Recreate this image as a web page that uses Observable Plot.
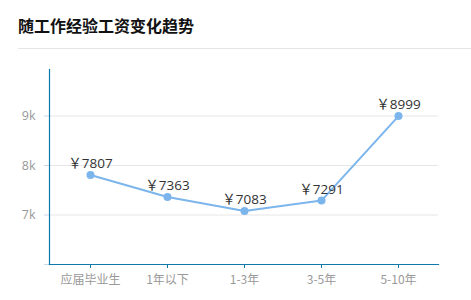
<!DOCTYPE html>
<html>
<head>
<meta charset="utf-8">
<script src="https://cdn.jsdelivr.net/npm/d3@7"></script>
<script src="https://cdn.jsdelivr.net/npm/@observablehq/plot@0.6"></script>
<style>
  html, body { margin: 0; padding: 0; background: #fff; }
  body { width: 471px; height: 300px; overflow: hidden; font-family: "Noto Sans CJK SC", "Open Sans", sans-serif; }
  #head { position: relative; height: 48px; margin-left: 18px; border-bottom: 1px solid #e6e6e6; }
  #title { position: absolute; left: 0; top: 13px; font-size: 16px; font-weight: bold; color: #111; line-height: 24px; white-space: nowrap; }
  #chart svg { display: block; }
</style>
</head>
<body>
<div id="head"><div id="title">随工作经验工资变化趋势</div></div>
<div id="chart"></div>
<script>
const categories = ["应届毕业生", "1年以下", "1-3年", "3-5年", "5-10年"];
const salaries = [7807, 7363, 7083, 7291, 8999];
const yTicks = [6000, 7000, 8000, 9000];
const yTickLabels = ["", "7k", "8k", "9k"];
const currency = "￥";

const data = categories.map((c, i) => ({ cat: c, v: salaries[i] }));
const axisColor = "#0e7aac";
const tickGrey = "#ccd6eb";
const textGrey = "#999";

const chart = Plot.plot({
  width: 471,
  height: 251,
  marginTop: 20,
  marginBottom: 36,
  marginLeft: 49,
  marginRight: 33,
  style: { fontFamily: '"Open Sans", "Noto Sans CJK SC", sans-serif', fontSize: "12px", background: "#fff" },
  x: { type: "point", domain: categories, padding: 0.5 },
  y: { domain: [6000, 9940] },
  marks: [
    Plot.gridY(yTicks.slice(1), { stroke: "#e6e6e6", strokeOpacity: 1 }),
    Plot.axisY(yTicks, {
      tickSize: 5, tickPadding: 9, stroke: tickGrey, fill: textGrey,
      tickFormat: d => yTickLabels[yTicks.indexOf(d)], label: null, fontSize: 12.5
    }),
    Plot.axisX({
      tickSize: 4, tickPadding: 7, stroke: axisColor, fill: textGrey, label: null, fontSize: 12,
      fontFamily: '"Noto Sans CJK SC", sans-serif'
    }),
    Plot.frame({ anchor: "left", stroke: axisColor, strokeWidth: 1.2 }),
    Plot.frame({ anchor: "bottom", stroke: axisColor, strokeWidth: 1.2 }),
    Plot.line(data, { x: "cat", y: "v", stroke: "#7cb5ec", strokeWidth: 2 }),
    Plot.dot(data, { x: "cat", y: "v", r: 4, fill: "#7cb5ec", stroke: null }),
    Plot.text(data, {
      x: "cat", y: "v", text: d => currency + d.v, dy: -11, fill: "#333", fontSize: 13.5,
      fontFamily: '"Open Sans", "Noto Sans CJK SC", sans-serif'
    })
  ]
});
document.getElementById("chart").appendChild(chart);
</script>
</body>
</html>
